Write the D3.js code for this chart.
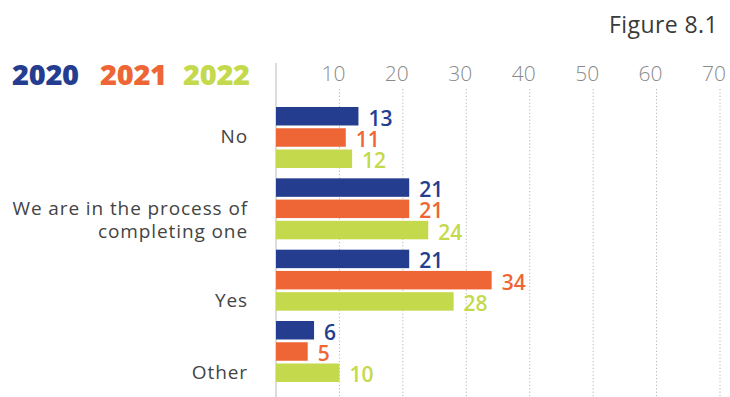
<!DOCTYPE html>
<html>
<head>
<meta charset="utf-8">
<script src="https://cdn.jsdelivr.net/npm/d3@7/dist/d3.min.js"></script>
<style>
  html, body { margin: 0; padding: 0; background: #fff; }
  svg { display: block; }
</style>
</head>
<body>
<svg id="chart" width="730" height="397"></svg>
<script>
// Survey answers by year
const categories = ["No", "We are in the process of\ncompleting one", "Yes", "Other"];
const years = ["2020", "2021", "2022"];
const values2020 = [13, 21, 21, 6];
const values2021 = [11, 21, 34, 5];
const values2022 = [12, 24, 28, 10];
const tickValues = [10, 20, 30, 40, 50, 60, 70];
const figureTitle = "Figure 8.1";

const seriesByYear = { "2020": values2020, "2021": values2021, "2022": values2022 };
const colors = { "2020": "#253d8f", "2021": "#ee6635", "2022": "#c4d94c" };

const svg = d3.select("#chart");
const font = "'Open Sans', 'Noto Sans', sans-serif";

const x = d3.scaleLinear().domain([0, 70]).range([276, 720]);
const y0 = d3.scaleBand().domain(categories).range([107, 382]).paddingInner(0.145).paddingOuter(0);
const y1 = d3.scaleBand().domain(years).range([0, y0.bandwidth()]).paddingInner(0.13).paddingOuter(0);

// Title
svg.append("text")
  .attr("x", 718).attr("y", 33)
  .attr("text-anchor", "end")
  .attr("font-family", font).attr("font-size", 23).attr("font-weight", 400)
  .attr("letter-spacing", 0.4)
  .attr("fill", "#3a3a3a")
  .text(figureTitle);

// Legend
const legendX = [12, 100, 183];
svg.append("g").selectAll("text").data(years).join("text")
  .attr("x", (d, i) => legendX[i]).attr("y", 85)
  .attr("font-family", font).attr("font-size", 29).attr("font-weight", 800)
  .attr("letter-spacing", -0.3)
  .attr("fill", d => colors[d])
  .text(d => d);

// Dotted gridlines with labels on top
const grid = svg.append("g");
grid.selectAll("line").data(tickValues).join("line")
  .attr("x1", d => x(d)).attr("x2", d => x(d))
  .attr("y1", 89).attr("y2", 397)
  .attr("stroke", "#b5b5b5").attr("stroke-width", 1)
  .attr("stroke-dasharray", "1.2,2.2");
grid.selectAll("text").data(tickValues).join("text")
  .attr("x", d => x(d) - 6).attr("y", 81)
  .attr("text-anchor", "middle")
  .attr("font-family", font).attr("font-size", 21).attr("font-weight", 300)
  .attr("fill", "#8a8a8a")
  .text(d => d);

// Baseline
svg.append("line")
  .attr("x1", x(0)).attr("x2", x(0))
  .attr("y1", 63).attr("y2", 397)
  .attr("stroke", "#c4c4c4").attr("stroke-width", 1.2);

// Bars
const rows = categories.map((c, i) => ({
  category: c,
  bars: years.map(yr => ({ year: yr, value: seriesByYear[yr][i] }))
}));

const groups = svg.append("g").selectAll("g").data(rows).join("g")
  .attr("transform", d => `translate(0,${y0(d.category)})`);

groups.selectAll("rect").data(d => d.bars).join("rect")
  .attr("x", x(0))
  .attr("y", d => y1(d.year))
  .attr("width", d => x(d.value) - x(0))
  .attr("height", y1.bandwidth())
  .attr("fill", d => colors[d.year]);

groups.selectAll("text.value").data(d => d.bars).join("text")
  .attr("class", "value")
  .attr("x", d => x(d.value) + 10)
  .attr("y", d => y1(d.year) + y1.bandwidth() / 2 + 1.5)
  .attr("dominant-baseline", "central")
  .attr("font-family", font).attr("font-size", 21).attr("font-weight", 600)
  .attr("fill", d => colors[d.year])
  .text(d => d.value);

// Category labels, aligned to a bar row within each group
const labelRow = { 0: "2021", 1: "2021", 2: "2022", 3: "2022" };
const catLabels = svg.append("g").selectAll("text").data(categories).join("text")
  .attr("text-anchor", "end")
  .attr("font-family", font).attr("font-size", 19).attr("font-weight", 400)
  .attr("letter-spacing", 0.9)
  .attr("fill", "#444")
  .attr("transform", (d, i) => `translate(248,${y0(d) + y1(labelRow[i]) + y1.bandwidth() / 2 - 1})`);

catLabels.selectAll("tspan").data(d => d.split("\n")).join("tspan")
  .attr("x", 0)
  .attr("y", (d, i) => i * 23)
  .attr("dominant-baseline", "central")
  .text(d => d);
</script>
</body>
</html>
